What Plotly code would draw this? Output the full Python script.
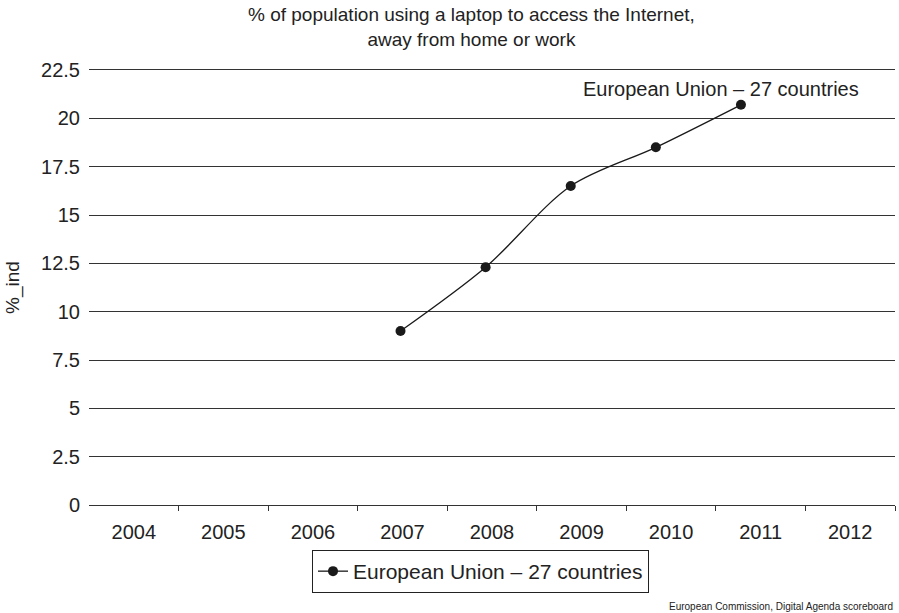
import plotly.graph_objects as go

# ---- data ----
years = [2004, 2005, 2006, 2007, 2008, 2009, 2010, 2011, 2012]
series_years = [2007, 2008, 2009, 2010, 2011]
series_values = [9.0, 12.3, 16.5, 18.5, 20.7]
series_name = "European Union \u2013 27 countries"
y_ticks = [0, 2.5, 5, 7.5, 10, 12.5, 15, 17.5, 20, 22.5]
y_tick_labels = ["0", "2.5", "5", "7.5", "10", "12.5", "15", "17.5", "20", "22.5"]
title_text = "% of population using a laptop to access the Internet,<br>away from home or work"
source_text = "European Commission, Digital Agenda scoreboard"

FONT = "Liberation Sans, Arial, Helvetica, sans-serif"
TXT = "#222222"
LINE = "#333333"

fig = go.Figure()

# invisible trace so the year axis renders its ticks
fig.add_trace(go.Scatter(
    x=years, y=[None] * len(years), mode="markers",
    showlegend=False, hoverinfo="skip", xaxis="x", yaxis="y",
))

fig.add_trace(go.Scatter(
    x=series_years, y=series_values, name=series_name,
    xaxis="x2", yaxis="y",
    mode="lines+markers",
    line=dict(color="#1a1a1a", width=1.3, shape="spline", smoothing=0.9),
    marker=dict(color="#1a1a1a", size=10, symbol="circle"),
    showlegend=True,
))

fig.update_layout(
    width=899, height=613,
    margin=dict(l=89, r=4, t=70, b=108),
    paper_bgcolor="white", plot_bgcolor="white",
    font=dict(family=FONT, size=20, color=TXT),
    xaxis=dict(
        range=[2003.5, 2012.5],
        tickmode="array", tickvals=years, ticktext=[str(y) for y in years],
        ticks="", showgrid=False, zeroline=False,
        showline=True, mirror=True, linecolor=LINE, linewidth=1.3,
        minor=dict(tickmode="array", tickvals=[y + 0.5 for y in years],
                   ticks="outside", ticklen=5, tickwidth=1.3, tickcolor=LINE,
                   showgrid=False),
        ticklabelstandoff=9,
        tickfont=dict(size=20),
        fixedrange=True,
    ),
    xaxis2=dict(
        overlaying="x", range=[2003.34, 2012.81], visible=False,
        fixedrange=True,
    ),
    yaxis=dict(
        range=[0, 22.5],
        tickmode="array", tickvals=y_ticks, ticktext=y_tick_labels,
        showgrid=True, gridcolor=LINE, gridwidth=1.3,
        zeroline=False, showline=False, ticks="",
        ticklabelstandoff=8,
        tickfont=dict(size=20),
        title=dict(text="%_ind", standoff=16, font=dict(size=19)),
        fixedrange=True,
    ),
    legend=dict(
        x=(312 - 89) / 806, xanchor="left",
        y=(505 - 550) / 435, yanchor="top",
        orientation="h",
        bordercolor="#222222", borderwidth=1,
        bgcolor="white",
        font=dict(size=21, color=TXT),
    ),
    showlegend=True,
)

fig.add_annotation(
    text=title_text, xref="paper", yref="paper",
    x=(471 - 89) / 806, xanchor="center",
    y=1 + (70 - 2) / 435, yanchor="top",
    showarrow=False, font=dict(size=19, color=TXT),
)

fig.add_annotation(
    text=series_name, xref="paper", yref="paper",
    x=(861 - 89) / 806, xanchor="right",
    y=(505 - 89) / 435, yanchor="middle",
    showarrow=False, font=dict(size=20, color=TXT),
)

fig.add_annotation(
    text=source_text,
    xref="paper", yref="paper",
    x=1.0, xanchor="right",
    y=(505 - 606) / 435, yanchor="middle",
    showarrow=False, font=dict(size=10, color=TXT),
)

fig.write_html("out.html")
